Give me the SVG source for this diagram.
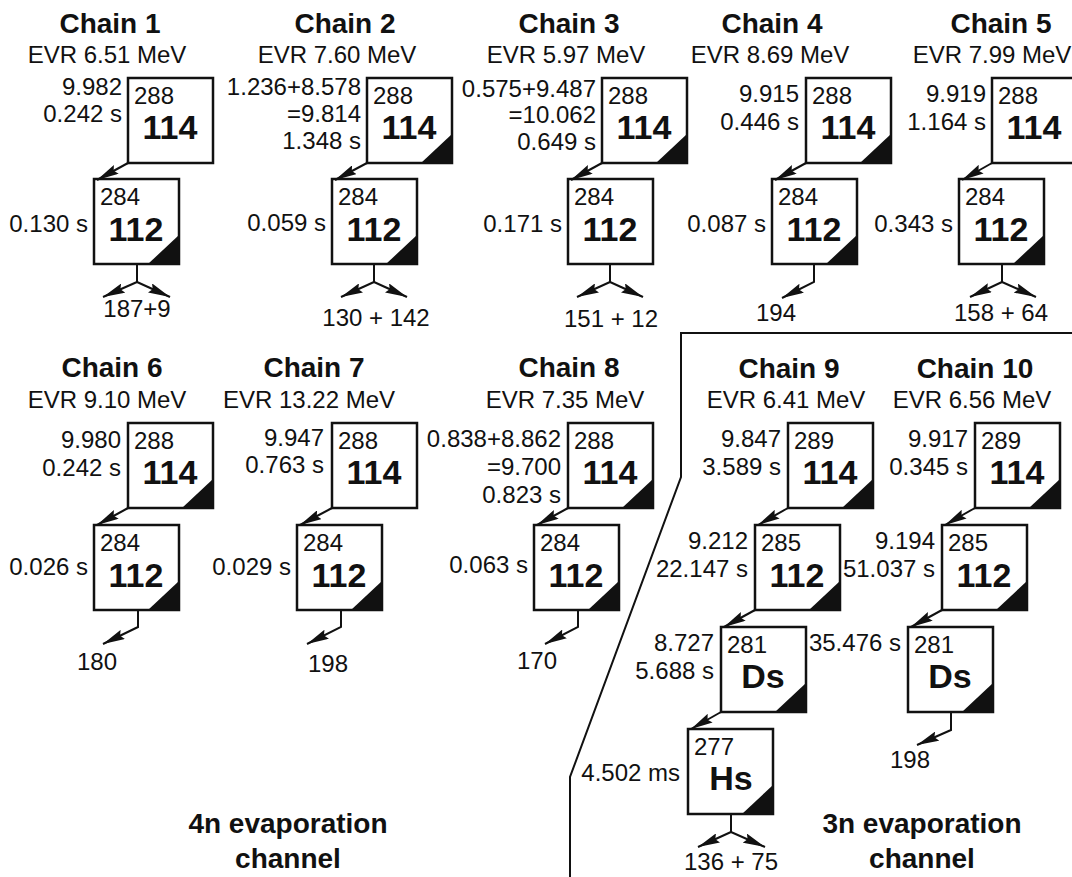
<svg xmlns="http://www.w3.org/2000/svg" width="1072" height="877" viewBox="0 0 1072 877">
<defs>
<style>
text{font-family:"Liberation Sans",Arial,sans-serif;fill:#111}
.t{font-size:28px;font-weight:bold;text-anchor:middle}
.e{font-size:24px;text-anchor:middle}
.l{font-size:24px;text-anchor:end}
.m{font-size:24px}
.z{font-size:34px;font-weight:bold;text-anchor:middle}
.n{font-size:24px;text-anchor:middle}
.b{fill:#fff;stroke:#111;stroke-width:2.5}
.tri{fill:#111}
.c{fill:none;stroke:#111;stroke-width:2}
.a{fill:none;stroke:#111;stroke-width:2;marker-end:url(#ah)}
</style>
<marker id="ah" markerUnits="userSpaceOnUse" markerWidth="22" markerHeight="10" viewBox="0 0 22 10" refX="22" refY="5" orient="auto">
<path d="M0,0 L22,5 L0,10 L3,5 z" fill="#111"/>
</marker>
</defs>
<rect width="1072" height="877" fill="#fff"/>

<g id="titles">
<text class="t" x="110" y="33">Chain 1</text><text class="e" x="107" y="63">EVR 6.51 MeV</text>
<text class="t" x="345" y="33">Chain 2</text><text class="e" x="337" y="63">EVR 7.60 MeV</text>
<text class="t" x="569" y="33">Chain 3</text><text class="e" x="566" y="63">EVR 5.97 MeV</text>
<text class="t" x="772" y="33">Chain 4</text><text class="e" x="770" y="63">EVR 8.69 MeV</text>
<text class="t" x="1001" y="33">Chain 5</text><text class="e" x="992" y="63">EVR 7.99 MeV</text>
<text class="t" x="112" y="377">Chain 6</text><text class="e" x="107" y="408">EVR 9.10 MeV</text>
<text class="t" x="314" y="377">Chain 7</text><text class="e" x="309" y="408">EVR 13.22 MeV</text>
<text class="t" x="569" y="377">Chain 8</text><text class="e" x="565" y="408">EVR 7.35 MeV</text>
<text class="t" x="789" y="378">Chain 9</text><text class="e" x="786" y="408">EVR 6.41 MeV</text>
<text class="t" x="975" y="378">Chain 10</text><text class="e" x="972" y="408">EVR 6.56 MeV</text>
<text class="t" x="288" y="833">4n evaporation</text><text class="t" x="288" y="868">channel</text>
<text class="t" x="922" y="833">3n evaporation</text><text class="t" x="922" y="868">channel</text>
</g>

<g id="c1-288114">
<rect class="b" x="128" y="78" width="85" height="85"/>
<text class="m" x="134" y="104">288</text><text class="z" x="170" y="139">114</text>
<text class="l" x="122" y="95">9.982</text><text class="l" x="122" y="122">0.242 s</text>
</g>
<g id="c1-284112">
<rect class="b" x="94" y="179" width="85" height="85"/><path class="tri" d="M148,264 H179 V235 z"/>
<text class="m" x="100" y="205">284</text><text class="z" x="136" y="241">112</text>
<text class="l" x="88" y="232">0.130 s</text>
<text class="n" x="137" y="317">187+9</text>
</g>

<g id="c2-288114">
<rect class="b" x="367" y="78" width="85" height="85"/><path class="tri" d="M421,163 H452 V134 z"/>
<text class="m" x="373" y="104">288</text><text class="z" x="409" y="139">114</text>
<text class="l" x="361" y="95">1.236+8.578</text><text class="l" x="361" y="122">=9.814</text><text class="l" x="361" y="149">1.348 s</text>
</g>
<g id="c2-284112">
<rect class="b" x="332" y="179" width="85" height="85"/><path class="tri" d="M386,264 H417 V235 z"/>
<text class="m" x="338" y="205">284</text><text class="z" x="374" y="241">112</text>
<text class="l" x="326" y="231">0.059 s</text>
<text class="n" x="376" y="326">130 + 142</text>
</g>

<g id="c3-288114">
<rect class="b" x="602" y="78" width="85" height="85"/><path class="tri" d="M656,163 H687 V134 z"/>
<text class="m" x="608" y="104">288</text><text class="z" x="644" y="139">114</text>
<text class="l" x="596" y="97">0.575+9.487</text><text class="l" x="596" y="123">=10.062</text><text class="l" x="596" y="150">0.649 s</text>
</g>
<g id="c3-284112">
<rect class="b" x="568" y="179" width="85" height="85"/>
<text class="m" x="574" y="205">284</text><text class="z" x="610" y="241">112</text>
<text class="l" x="562" y="232">0.171 s</text>
<text class="n" x="611" y="327">151 + 12</text>
</g>

<g id="c4-288114">
<rect class="b" x="806" y="78" width="85" height="85"/><path class="tri" d="M860,163 H891 V134 z"/>
<text class="m" x="812" y="104">288</text><text class="z" x="848" y="139">114</text>
<text class="l" x="799" y="102">9.915</text><text class="l" x="799" y="130">0.446 s</text>
</g>
<g id="c4-284112">
<rect class="b" x="772" y="179" width="85" height="85"/><path class="tri" d="M826,264 H857 V235 z"/>
<text class="m" x="778" y="205">284</text><text class="z" x="814" y="241">112</text>
<text class="l" x="766" y="232">0.087 s</text>
<text class="n" x="776" y="321">194</text>
</g>

<g id="c5-288114">
<rect class="b" x="992" y="78" width="85" height="85"/>
<text class="m" x="998" y="104">288</text><text class="z" x="1034" y="139">114</text>
<text class="l" x="986" y="102">9.919</text><text class="l" x="986" y="130">1.164 s</text>
</g>
<g id="c5-284112">
<rect class="b" x="959" y="179" width="85" height="85"/><path class="tri" d="M1013,264 H1044 V235 z"/>
<text class="m" x="965" y="205">284</text><text class="z" x="1001" y="241">112</text>
<text class="l" x="953" y="232">0.343 s</text>
<text class="n" x="1001" y="321">158 + 64</text>
</g>

<g id="c6-288114">
<rect class="b" x="128" y="423" width="85" height="85"/><path class="tri" d="M182,508 H213 V479 z"/>
<text class="m" x="134" y="449">288</text><text class="z" x="170" y="484">114</text>
<text class="l" x="121" y="448">9.980</text><text class="l" x="121" y="476">0.242 s</text>
</g>
<g id="c6-284112">
<rect class="b" x="94" y="525" width="85" height="85"/><path class="tri" d="M148,610 H179 V581 z"/>
<text class="m" x="100" y="551">284</text><text class="z" x="136" y="587">112</text>
<text class="l" x="88" y="575">0.026 s</text>
<text class="n" x="97" y="670">180</text>
</g>

<g id="c7-288114">
<rect class="b" x="332" y="423" width="85" height="85"/>
<text class="m" x="338" y="449">288</text><text class="z" x="374" y="484">114</text>
<text class="l" x="324" y="446">9.947</text><text class="l" x="324" y="473">0.763 s</text>
</g>
<g id="c7-284112">
<rect class="b" x="297" y="525" width="85" height="85"/><path class="tri" d="M351,610 H382 V581 z"/>
<text class="m" x="303" y="551">284</text><text class="z" x="339" y="587">112</text>
<text class="l" x="291" y="575">0.029 s</text>
<text class="n" x="328" y="672">198</text>
</g>

<g id="c8-288114">
<rect class="b" x="568" y="423" width="85" height="85"/><path class="tri" d="M622,508 H653 V479 z"/>
<text class="m" x="574" y="449">288</text><text class="z" x="610" y="484">114</text>
<text class="l" x="561" y="447">0.838+8.862</text><text class="l" x="561" y="475">=9.700</text><text class="l" x="561" y="503">0.823 s</text>
</g>
<g id="c8-284112">
<rect class="b" x="534" y="525" width="85" height="85"/><path class="tri" d="M588,610 H619 V581 z"/>
<text class="m" x="540" y="551">284</text><text class="z" x="576" y="587">112</text>
<text class="l" x="528" y="573">0.063 s</text>
<text class="n" x="537" y="669">170</text>
</g>

<g id="c9-289114">
<rect class="b" x="788" y="423" width="85" height="85"/><path class="tri" d="M842,508 H873 V479 z"/>
<text class="m" x="794" y="449">289</text><text class="z" x="830" y="484">114</text>
<text class="l" x="781" y="447">9.847</text><text class="l" x="781" y="475">3.589 s</text>
</g>
<g id="c9-285112">
<rect class="b" x="755" y="525" width="85" height="85"/><path class="tri" d="M809,610 H840 V581 z"/>
<text class="m" x="761" y="551">285</text><text class="z" x="797" y="587">112</text>
<text class="l" x="748" y="549">9.212</text><text class="l" x="748" y="577">22.147 s</text>
</g>
<g id="c9-281Ds">
<rect class="b" x="721" y="627" width="85" height="85"/><path class="tri" d="M775,712 H806 V683 z"/>
<text class="m" x="727" y="653">281</text><text class="z" x="763" y="688">Ds</text>
<text class="l" x="714" y="651">8.727</text><text class="l" x="714" y="679">5.688 s</text>
</g>
<g id="c9-277Hs">
<rect class="b" x="688" y="729" width="85" height="85"/><path class="tri" d="M742,814 H773 V785 z"/>
<text class="m" x="694" y="755">277</text><text class="z" x="731" y="790">Hs</text>
<text class="l" x="680" y="781">4.502 ms</text>
<text class="n" x="731" y="870">136 + 75</text>
</g>

<g id="c10-289114">
<rect class="b" x="975" y="423" width="85" height="85"/><path class="tri" d="M1029,508 H1060 V479 z"/>
<text class="m" x="981" y="449">289</text><text class="z" x="1017" y="484">114</text>
<text class="l" x="968" y="447">9.917</text><text class="l" x="968" y="475">0.345 s</text>
</g>
<g id="c10-285112">
<rect class="b" x="942" y="525" width="85" height="85"/><path class="tri" d="M996,610 H1027 V581 z"/>
<text class="m" x="948" y="551">285</text><text class="z" x="984" y="587">112</text>
<text class="l" x="935" y="549">9.194</text><text class="l" x="935" y="577">51.037 s</text>
</g>
<g id="c10-281Ds">
<rect class="b" x="908" y="627" width="85" height="85"/><path class="tri" d="M962,712 H993 V683 z"/>
<text class="m" x="914" y="653">281</text><text class="z" x="950" y="688">Ds</text>
<text class="l" x="901" y="651">35.476 s</text>
<text class="n" x="910" y="768">198</text>
</g>

<g id="connectors">
<path class="c" d="M1072,333 H681 V477 L570,777 V877"/>
<path class="a" d="M128,163 L97,180"/>
<path class="c" d="M137,264 V282"/><path class="a" d="M137,282 L103,297"/><path class="a" d="M137,282 L170,297"/>
<path class="a" d="M367,163 L335,180"/>
<path class="c" d="M374,264 V282"/><path class="a" d="M374,282 L341,297"/><path class="a" d="M374,282 L407,297"/>
<path class="a" d="M602,163 L571,180"/>
<path class="c" d="M610,264 V282"/><path class="a" d="M610,282 L577,297"/><path class="a" d="M610,282 L643,297"/>
<path class="a" d="M806,163 L775,180"/>
<path class="a" d="M814,264 V282 L782,298"/>
<path class="a" d="M992,163 L962,180"/>
<path class="c" d="M1002,264 V282"/><path class="a" d="M1002,282 L970,297"/><path class="a" d="M1002,282 L1036,297"/>
<path class="a" d="M128,508 L97,525"/>
<path class="a" d="M138,610 V627 L103,644"/>
<path class="a" d="M332,508 L300,525"/>
<path class="a" d="M341,610 V627 L307,644"/>
<path class="a" d="M568,508 L537,525"/>
<path class="a" d="M578,610 V627 L545,644"/>
<path class="a" d="M788,508 L758,525"/>
<path class="a" d="M755,610 L724,627"/>
<path class="a" d="M721,712 L691,729"/>
<path class="c" d="M731,814 V832"/><path class="a" d="M731,832 L698,847"/><path class="a" d="M731,832 L765,847"/>
<path class="a" d="M975,508 L945,525"/>
<path class="a" d="M942,610 L911,627"/>
<path class="a" d="M951,712 V730 L917,745"/>
</g>
</svg>
